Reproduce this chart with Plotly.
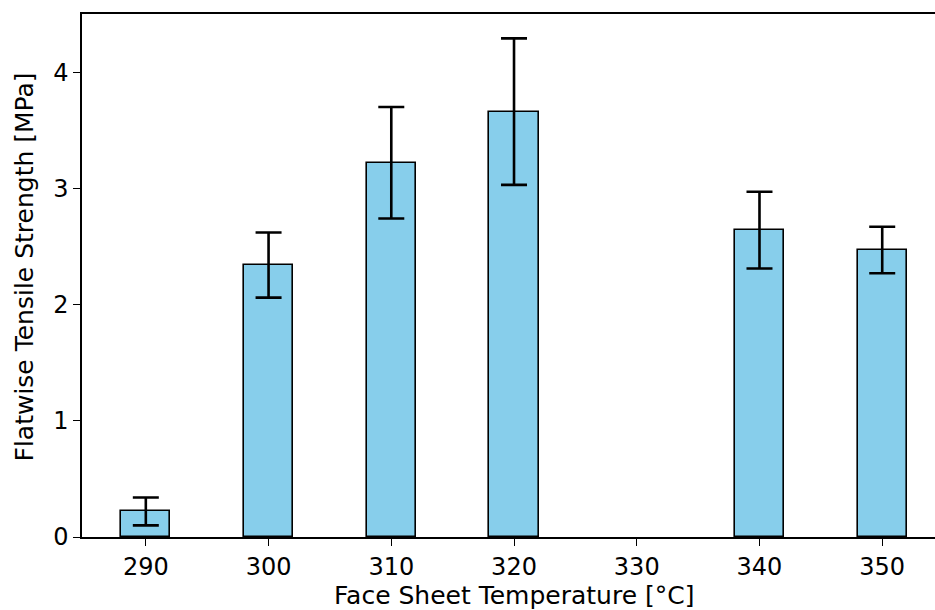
import plotly.graph_objects as go

temps = [290, 300, 310, 320, 340, 350]
strength = [0.22, 2.34, 3.22, 3.66, 2.64, 2.47]
errors = [0.12, 0.28, 0.48, 0.63, 0.33, 0.20]
xticks = [290, 300, 310, 320, 330, 340, 350]
yticks = [0, 1, 2, 3, 4]
x_full = [284.8, 355.2]   # full matplotlib-style x limits (right part cropped by window)

fig = go.Figure()
fig.add_trace(go.Bar(
    x=temps, y=strength, width=4,
    marker=dict(color="#87CEEB", line=dict(color="black", width=1.6)),
    error_y=dict(type="data", array=errors, visible=True, color="black",
                 thickness=2.6, width=13),
))

font = dict(family="DejaVu Sans", size=24, color="black")
tfont = dict(family="DejaVu Sans", size=25, color="black")
fig.update_layout(
    width=935, height=610,
    margin=dict(l=82, r=0, t=14, b=73),
    plot_bgcolor="white", paper_bgcolor="white",
    showlegend=False, font=font,
    bargap=0,
)
fig.update_xaxes(
    range=[x_full[0], 354.3], tickvals=xticks, ticktext=[str(t) for t in xticks],
    showline=True, linecolor="black", linewidth=1.5, mirror=True,
    ticks="outside", ticklen=7, tickwidth=1.3, tickcolor="black",
    showgrid=False, zeroline=False, tickfont=font,
)
fig.update_yaxes(
    range=[0, 4.5], tickvals=yticks,
    showline=True, linecolor="black", linewidth=1.5,
    ticks="outside", ticklen=7, tickwidth=1.3, tickcolor="black",
    showgrid=False, zeroline=False, tickfont=font,
)
fig.add_annotation(
    text="Face Sheet Temperature [°C]", font=tfont, showarrow=False,
    xref="x", x=(x_full[0] + x_full[1]) / 2, yref="paper", y=0,
    xanchor="center", yanchor="top", yshift=-42,
)
fig.add_annotation(
    text="Flatwise Tensile Strength [MPa]", font=tfont, showarrow=False,
    textangle=-90, xref="paper", x=0, xshift=-58, yref="paper", y=0.5, yshift=8,
    xanchor="center", yanchor="middle",
)
fig.write_html("out.html")
